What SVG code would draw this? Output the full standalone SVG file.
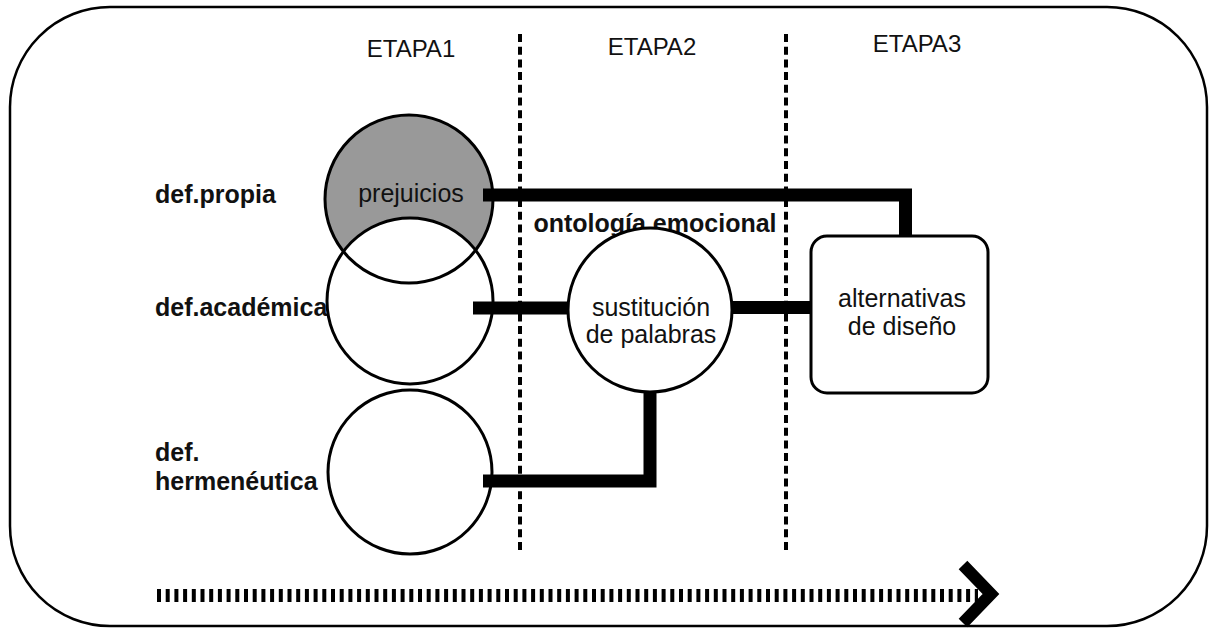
<svg xmlns="http://www.w3.org/2000/svg" width="1209" height="628" viewBox="0 0 1209 628">
<style>
.t{font-family:"Liberation Sans",Arial,sans-serif;font-size:25px;fill:#111}
.b{font-family:"Liberation Sans",Arial,sans-serif;font-size:25px;font-weight:bold;fill:#111}
.e{font-family:"Liberation Sans",Arial,sans-serif;font-size:24px;fill:#111;text-anchor:middle}
.c{text-anchor:middle}
.n{stroke:#000;stroke-width:3}
.k{fill:none;stroke:#000;stroke-width:13}
.d{fill:none;stroke:#000;stroke-width:4;stroke-dasharray:8 4.7}
</style>
<rect width="1209" height="628" fill="#fff"/>
<rect x="10" y="7" width="1197" height="619" rx="100" ry="100" fill="none" stroke="#000" stroke-width="2.5"/>
<g id="stages">
<text class="e" x="411" y="57">ETAPA1</text>
<text class="e" x="652" y="55">ETAPA2</text>
<text class="e" x="917" y="52">ETAPA3</text>
<line class="d" x1="520" y1="34" x2="520" y2="552"/>
<line class="d" x1="786" y1="34" x2="786" y2="552"/>
</g>
<g id="labels">
<text class="b" x="155" y="203">def.propia</text>
<text class="b" x="155" y="316">def.académica</text>
<text class="b" x="155" y="461">def.</text>
<text class="b" x="155" y="490">hermenéutica</text>
<text class="b c" x="655" y="232">ontología emocional</text>
</g>
<g id="node-prejuicios">
<circle cx="409" cy="199" r="84" fill="#999"/>
</g>
<g id="node-academica">
<circle cx="410" cy="301" r="83" fill="#fff" class="n"/>
</g>
<g id="node-prejuicios-outline">
<circle cx="409" cy="199" r="84" fill="none" class="n"/>
<text class="t c" x="411" y="202">prejuicios</text>
</g>
<g id="node-hermeneutica">
<circle cx="410" cy="472" r="82" fill="#fff" class="n"/>
</g>
<g id="node-sustitucion">
<circle cx="650" cy="310" r="82" fill="#fff" class="n"/>
<text class="t c" x="651" y="316">sustitución</text>
<text class="t c" x="651" y="343">de palabras</text>
</g>
<g id="node-alternativas">
<rect x="811" y="236" width="177" height="157" rx="16" fill="#fff" class="n"/>
<text class="t c" x="902" y="307">alternativas</text>
<text class="t c" x="902" y="335">de diseño</text>
</g>
<g id="connectors">
<polyline class="k" points="483,195 905.5,195 905.5,236"/>
<line class="k" x1="473" y1="308" x2="569" y2="308"/>
<line class="k" x1="731" y1="307.5" x2="812" y2="307.5"/>
<polyline class="k" points="483,481 650,481 650,391"/>
</g>
<g id="timeline">
<line x1="157" y1="595.5" x2="978" y2="595.5" stroke="#000" stroke-width="13" stroke-dasharray="4 4.7"/>
<polyline points="963,565 991,594 963,623" fill="none" stroke="#000" stroke-width="12"/>
</g>
</svg>
